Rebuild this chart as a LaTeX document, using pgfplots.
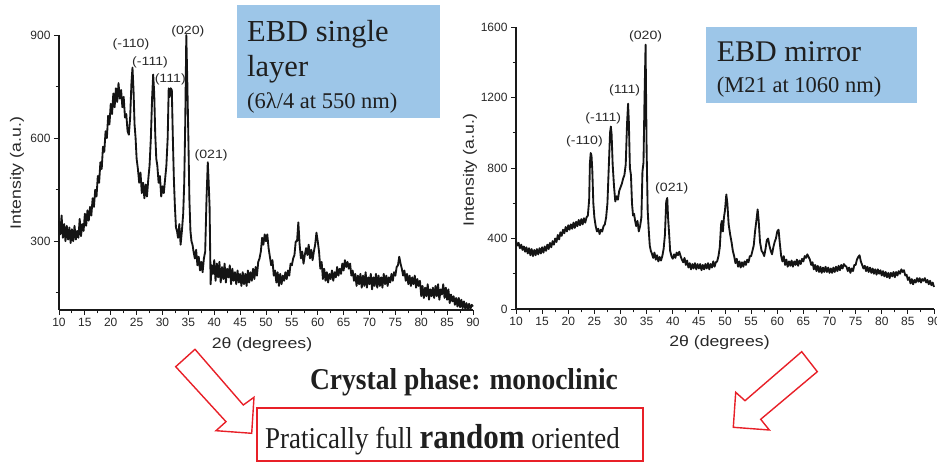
\documentclass[border=0pt]{standalone}
\usepackage{pgfplots}
\pgfplotsset{compat=1.18}
\usepackage{pgfplotstable}
\usepackage{fontspec}
\setmainfont{Liberation Serif}
\setsansfont{Liberation Sans}
\newfontfamily\plotfont{Liberation Sans}

\definecolor{boxblue}{RGB}{157,198,232}
\definecolor{arrowred}{RGB}{232,32,40}
\definecolor{inkgray}{RGB}{40,40,40}

% XRD pattern, EBD single layer (2theta in degrees, intensity in a.u.)
\pgfplotstableread[row sep=\\]{
tt I\\
10.00 360\\ 10.25 320\\ 10.50 375\\ 10.75 310\\ 11.00 350\\ 11.25 300\\ 11.50 345\\ 11.75 305\\
12.00 340\\ 12.25 295\\ 12.50 335\\ 12.75 300\\ 13.00 345\\ 13.25 305\\ 13.50 330\\ 13.75 310\\
14.00 365\\ 14.25 315\\ 14.50 350\\ 14.75 330\\ 15.00 380\\ 15.25 345\\ 15.50 390\\ 15.75 360\\
16.00 400\\ 16.25 375\\ 16.50 425\\ 16.75 400\\ 17.00 450\\ 17.25 430\\ 17.50 490\\ 17.75 470\\
18.00 530\\ 18.25 510\\ 18.50 575\\ 18.75 560\\ 19.00 620\\ 19.25 600\\ 19.50 665\\ 19.75 640\\
20.00 700\\ 20.25 670\\ 20.50 730\\ 20.75 690\\ 21.00 745\\ 21.25 705\\ 21.50 760\\ 21.75 715\\
22.00 740\\ 22.25 690\\ 22.50 720\\ 22.75 660\\ 23.00 670\\ 23.25 620\\ 23.50 610\\ 23.75 660\\
24.00 760\\ 24.20 805\\ 24.40 740\\ 24.60 640\\ 24.80 600\\ 25.00 540\\ 25.25 510\\ 25.50 470\\
25.75 500\\ 26.00 440\\ 26.25 470\\ 26.50 425\\ 26.75 465\\ 27.00 430\\ 27.25 480\\ 27.50 520\\
27.75 600\\ 28.00 720\\ 28.20 785\\ 28.40 730\\ 28.60 610\\ 28.80 540\\ 29.00 520\\ 29.25 470\\
29.50 490\\ 29.75 430\\ 30.00 460\\ 30.25 440\\ 30.50 480\\ 30.75 520\\ 31.00 600\\ 31.20 745\\
31.40 720\\ 31.60 745\\ 31.80 740\\ 32.00 600\\ 32.20 480\\ 32.40 400\\ 32.60 340\\ 32.80 330\\
33.00 310\\ 33.25 350\\ 33.50 290\\ 33.75 330\\ 34.00 380\\ 34.20 470\\ 34.40 650\\ 34.60 900\\
34.80 760\\ 35.00 600\\ 35.20 420\\ 35.40 330\\ 35.60 300\\ 35.80 290\\ 36.00 270\\ 36.25 250\\
36.50 275\\ 36.75 230\\ 37.00 255\\ 37.25 215\\ 37.50 240\\ 37.75 210\\ 38.00 250\\ 38.25 270\\
38.50 420\\ 38.75 530\\ 38.90 480\\ 39.10 400\\ 39.30 175\\ 39.50 230\\ 39.75 205\\ 40.00 245\\
40.25 185\\ 40.50 235\\ 40.75 195\\ 41.00 240\\ 41.25 180\\ 41.50 225\\ 41.75 190\\ 42.00 235\\
42.25 180\\ 42.50 220\\ 42.75 195\\ 43.00 230\\ 43.25 175\\ 43.50 220\\ 43.75 185\\ 44.00 210\\
44.25 175\\ 44.50 215\\ 44.75 180\\ 45.00 205\\ 45.25 170\\ 45.50 210\\ 45.75 175\\ 46.00 205\\
46.25 170\\ 46.50 215\\ 46.75 180\\ 47.00 210\\ 47.25 185\\ 47.50 220\\ 47.75 190\\ 48.00 225\\
48.25 200\\ 48.50 240\\ 48.75 250\\ 49.00 270\\ 49.25 310\\ 49.50 290\\ 49.75 320\\ 50.00 300\\
50.25 320\\ 50.50 280\\ 50.75 255\\ 51.00 230\\ 51.25 245\\ 51.50 200\\ 51.75 215\\ 52.00 180\\
52.25 210\\ 52.50 170\\ 52.75 205\\ 53.00 175\\ 53.25 200\\ 53.50 185\\ 53.75 210\\ 54.00 190\\
54.25 215\\ 54.50 200\\ 54.75 235\\ 55.00 230\\ 55.25 250\\ 55.50 260\\ 55.75 300\\ 56.00 300\\
56.25 355\\ 56.50 290\\ 56.75 250\\ 57.00 270\\ 57.25 235\\ 57.50 260\\ 57.75 280\\ 58.00 260\\
58.25 290\\ 58.50 250\\ 58.75 275\\ 59.00 245\\ 59.25 270\\ 59.50 290\\ 59.75 325\\ 60.00 300\\
60.25 270\\ 60.50 220\\ 60.75 240\\ 61.00 190\\ 61.25 220\\ 61.50 185\\ 61.75 210\\ 62.00 180\\
62.25 205\\ 62.50 190\\ 62.75 215\\ 63.00 185\\ 63.25 210\\ 63.50 195\\ 63.75 225\\ 64.00 200\\
64.25 220\\ 64.50 205\\ 64.75 235\\ 65.00 215\\ 65.25 245\\ 65.50 225\\ 65.75 240\\ 66.00 220\\
66.25 235\\ 66.50 200\\ 66.75 215\\ 67.00 185\\ 67.25 205\\ 67.50 170\\ 67.75 200\\ 68.00 175\\
68.25 205\\ 68.50 165\\ 68.75 200\\ 69.00 170\\ 69.25 210\\ 69.50 165\\ 69.75 195\\ 70.00 175\\
70.25 205\\ 70.50 160\\ 70.75 195\\ 71.00 170\\ 71.25 205\\ 71.50 165\\ 71.75 200\\ 72.00 170\\
72.25 195\\ 72.50 165\\ 72.75 205\\ 73.00 175\\ 73.25 200\\ 73.50 170\\ 73.75 195\\ 74.00 180\\
74.25 205\\ 74.50 185\\ 74.75 210\\ 75.00 200\\ 75.25 225\\ 75.50 230\\ 75.75 255\\ 76.00 235\\
76.25 220\\ 76.50 200\\ 76.75 215\\ 77.00 185\\ 77.25 205\\ 77.50 175\\ 77.75 200\\ 78.00 170\\
78.25 195\\ 78.50 175\\ 78.75 200\\ 79.00 165\\ 79.25 190\\ 79.50 170\\ 79.75 185\\ 80.00 140\\
80.25 170\\ 80.50 135\\ 80.75 165\\ 81.00 140\\ 81.25 175\\ 81.50 130\\ 81.75 160\\ 82.00 140\\
82.25 165\\ 82.50 135\\ 82.75 170\\ 83.00 140\\ 83.25 175\\ 83.50 130\\ 83.75 160\\ 84.00 145\\
84.25 175\\ 84.50 135\\ 84.75 165\\ 85.00 130\\ 85.25 160\\ 85.50 120\\ 85.75 145\\ 86.00 125\\
86.25 140\\ 86.50 115\\ 86.75 135\\ 87.00 110\\ 87.25 135\\ 87.50 108\\ 87.75 130\\ 88.00 105\\
88.25 125\\ 88.50 104\\ 88.75 120\\ 89.00 102\\ 89.25 118\\ 89.50 103\\ 89.75 115\\ 90.00 110\\
}\singlelayer

% XRD pattern, EBD mirror
\pgfplotstableread[row sep=\\]{
tt I\\
10.00 385\\ 10.25 360\\ 10.50 375\\ 10.75 345\\ 11.00 365\\ 11.25 335\\ 11.50 355\\ 11.75 325\\
12.00 350\\ 12.25 315\\ 12.50 345\\ 12.75 305\\ 13.00 340\\ 13.25 300\\ 13.50 335\\ 13.75 305\\
14.00 340\\ 14.25 310\\ 14.50 345\\ 14.75 315\\ 15.00 350\\ 15.25 320\\ 15.50 355\\ 15.75 330\\
16.00 365\\ 16.25 340\\ 16.50 375\\ 16.75 350\\ 17.00 385\\ 17.25 365\\ 17.50 400\\ 17.75 380\\
18.00 420\\ 18.25 395\\ 18.50 435\\ 18.75 415\\ 19.00 450\\ 19.25 430\\ 19.50 465\\ 19.75 440\\
20.00 475\\ 20.25 450\\ 20.50 480\\ 20.75 455\\ 21.00 490\\ 21.25 460\\ 21.50 495\\ 21.75 470\\
22.00 505\\ 22.25 475\\ 22.50 510\\ 22.75 480\\ 23.00 515\\ 23.25 490\\ 23.50 520\\ 23.75 530\\
24.00 620\\ 24.15 830\\ 24.30 885\\ 24.45 870\\ 24.60 790\\ 24.80 600\\ 25.00 520\\ 25.25 470\\
25.50 440\\ 25.75 455\\ 26.00 425\\ 26.25 450\\ 26.50 440\\ 26.75 470\\ 27.00 480\\ 27.25 520\\
27.50 600\\ 27.75 800\\ 28.00 1000\\ 28.15 1035\\ 28.30 990\\ 28.50 820\\ 28.75 700\\ 29.00 610\\
29.25 640\\ 29.50 620\\ 29.75 670\\ 30.00 690\\ 30.25 710\\ 30.50 740\\ 30.75 760\\ 31.00 820\\
31.25 1050\\ 31.45 1165\\ 31.60 1060\\ 31.80 800\\ 32.00 760\\ 32.20 600\\ 32.40 530\\ 32.60 540\\
32.80 500\\ 33.00 470\\ 33.25 500\\ 33.50 440\\ 33.75 470\\ 34.00 520\\ 34.20 780\\ 34.40 830\\
34.60 1200\\ 34.80 1500\\ 35.00 900\\ 35.20 560\\ 35.40 450\\ 35.60 360\\ 35.80 330\\ 36.00 315\\
36.25 290\\ 36.50 320\\ 36.75 280\\ 37.00 305\\ 37.25 270\\ 37.50 295\\ 37.75 275\\ 38.00 300\\
38.25 340\\ 38.50 420\\ 38.75 610\\ 38.95 630\\ 39.10 520\\ 39.30 430\\ 39.50 330\\ 39.75 300\\
40.00 285\\ 40.25 310\\ 40.50 290\\ 40.75 320\\ 41.00 305\\ 41.25 325\\ 41.50 300\\ 41.75 280\\
42.00 265\\ 42.25 290\\ 42.50 250\\ 42.75 275\\ 43.00 235\\ 43.25 260\\ 43.50 225\\ 43.75 255\\
44.00 230\\ 44.25 260\\ 44.50 225\\ 44.75 255\\ 45.00 230\\ 45.25 255\\ 45.50 220\\ 45.75 250\\
46.00 225\\ 46.25 255\\ 46.50 230\\ 46.75 260\\ 47.00 225\\ 47.25 255\\ 47.50 235\\ 47.75 270\\
48.00 240\\ 48.25 265\\ 48.50 270\\ 48.75 300\\ 49.00 350\\ 49.25 480\\ 49.40 500\\ 49.60 440\\
49.80 520\\ 50.00 560\\ 50.25 650\\ 50.45 600\\ 50.70 480\\ 51.00 420\\ 51.25 380\\ 51.50 330\\
51.75 300\\ 52.00 260\\ 52.25 285\\ 52.50 240\\ 52.75 270\\ 53.00 235\\ 53.25 265\\ 53.50 240\\
53.75 270\\ 54.00 250\\ 54.25 280\\ 54.50 265\\ 54.75 300\\ 55.00 300\\ 55.25 330\\ 55.50 360\\
55.75 440\\ 56.00 500\\ 56.25 565\\ 56.45 500\\ 56.70 380\\ 57.00 330\\ 57.25 320\\ 57.50 300\\
57.75 340\\ 58.00 390\\ 58.25 400\\ 58.50 360\\ 58.75 330\\ 59.00 310\\ 59.25 350\\ 59.50 380\\
59.75 400\\ 60.00 440\\ 60.25 450\\ 60.50 370\\ 60.75 300\\ 61.00 270\\ 61.25 300\\ 61.50 250\\
61.75 280\\ 62.00 240\\ 62.25 270\\ 62.50 245\\ 62.75 275\\ 63.00 240\\ 63.25 270\\ 63.50 250\\
63.75 280\\ 64.00 245\\ 64.25 275\\ 64.50 255\\ 64.75 285\\ 65.00 270\\ 65.25 300\\ 65.50 290\\
65.75 310\\ 66.00 295\\ 66.25 280\\ 66.50 250\\ 66.75 265\\ 67.00 225\\ 67.25 250\\ 67.50 215\\
67.75 245\\ 68.00 210\\ 68.25 240\\ 68.50 205\\ 68.75 235\\ 69.00 210\\ 69.25 240\\ 69.50 210\\
69.75 235\\ 70.00 205\\ 70.25 230\\ 70.50 205\\ 70.75 235\\ 71.00 210\\ 71.25 240\\ 71.50 215\\
71.75 245\\ 72.00 220\\ 72.25 250\\ 72.50 230\\ 72.75 255\\ 73.00 245\\ 73.25 240\\ 73.50 215\\
73.75 235\\ 74.00 205\\ 74.25 230\\ 74.50 215\\ 74.75 250\\ 75.00 250\\ 75.25 280\\ 75.50 295\\
75.75 305\\ 76.00 270\\ 76.25 250\\ 76.50 230\\ 76.75 245\\ 77.00 215\\ 77.25 240\\ 77.50 210\\
77.75 235\\ 78.00 205\\ 78.25 230\\ 78.50 200\\ 78.75 225\\ 79.00 195\\ 79.25 225\\ 79.50 200\\
79.75 220\\ 80.00 190\\ 80.25 215\\ 80.50 185\\ 80.75 210\\ 81.00 180\\ 81.25 205\\ 81.50 175\\
81.75 205\\ 82.00 185\\ 82.25 210\\ 82.50 180\\ 82.75 210\\ 83.00 190\\ 83.25 215\\ 83.50 200\\
83.75 225\\ 84.00 210\\ 84.25 220\\ 84.50 190\\ 84.75 195\\ 85.00 165\\ 85.25 180\\ 85.50 145\\
85.75 170\\ 86.00 140\\ 86.25 165\\ 86.50 150\\ 86.75 175\\ 87.00 155\\ 87.25 175\\ 87.50 150\\
87.75 170\\ 88.00 160\\ 88.25 175\\ 88.50 150\\ 88.75 165\\ 89.00 140\\ 89.25 160\\ 89.50 135\\
89.75 150\\ 90.00 125\\
}\mirror

\pgfplotsset{
  xrdaxis/.style={
    scale only axis,
    xmin=10, xmax=90,
    axis x line*=bottom, axis y line*=left,
    axis line style={line width=1.2pt, -, black!90},
    every tick/.style={black!90, line width=0.9pt},
    tick align=outside,
    major tick length=5pt, minor tick length=3.5pt,
    xtick={10,15,...,90}, minor xtick={12.5,17.5,...,87.5},
    tick label style={font=\plotfont\fontsize{12}{12}\selectfont, text=inkgray},
    /pgf/number format/assume math mode=true,
    /pgf/number format/1000 sep={},
    clip=false,
  },
  xrdline/.style={black!92, line width=1.85pt, line join=round, mark=none},
}

\tikzset{
  peak/.style={font=\plotfont\fontsize{12}{12}\selectfont, text=inkgray, inner sep=0pt},
  axlabel/.style={font=\plotfont\fontsize{15}{15}\selectfont, text=inkgray, inner sep=0pt},
  boxtext/.style={inner sep=0pt, anchor=base west, text=black!88},
}
% sans labels in the plots are set a little wide
\newcommand{\wide}[1]{\scalebox{1.18}[1]{#1}}

\begin{document}
\begin{tikzpicture}[x=1pt, y=1pt]
\useasboundingbox (0,0) rectangle (937,462);

% single layer pattern
\begin{axis}[xrdaxis, at={(59pt,152pt)}, anchor=south west,
  width=414pt, height=275pt, ymin=100, ymax=900,
  ytick={300,600,900}, minor ytick={150,450,750}]
  \addplot[xrdline] table[x=tt, y=I] {\singlelayer};
  \node[peak] at (axis cs:23.9,874) {\wide{(-110)}};
  \node[peak] at (axis cs:27.6,820) {\wide{(-111)}};
  \node[peak] at (axis cs:31.5,772) {\wide{(111)}};
  \node[peak] at (axis cs:34.9,911) {\wide{(020)}};
  \node[peak] at (axis cs:39.4,549) {\wide{(021)}};
\end{axis}

% mirror pattern
\begin{axis}[xrdaxis, at={(516pt,153pt)}, anchor=south west,
  width=418pt, height=282pt, ymin=0, ymax=1600,
  ytick={0,400,...,1600}, minor ytick={200,600,1000,1400}]
  \addplot[xrdline] table[x=tt, y=I] {\mirror};
  \node[peak] at (axis cs:23.1,949) {\wide{(-110)}};
  \node[peak] at (axis cs:26.7,1083) {\wide{(-111)}};
  \node[peak] at (axis cs:30.8,1238) {\wide{(111)}};
  \node[peak] at (axis cs:34.8,1545) {\wide{(020)}};
  \node[peak] at (axis cs:39.8,685) {\wide{(021)}};
\end{axis}

% axis titles
\node[axlabel, rotate=90] at (17,289) {\wide{Intensity (a.u.)}};
\node[axlabel, rotate=90] at (470,292) {\wide{Intensity (a.u.)}};
\node[axlabel] at (262,117) {\wide{2θ (degrees)}};
\node[axlabel] at (719.5,119) {\wide{2θ (degrees)}};

% sample boxes
\fill[boxblue] (237,344) rectangle (440,457);
\node[boxtext, font=\fontsize{30.5}{31}\selectfont] at (247,420.3) {EBD single};
\node[boxtext, font=\fontsize{30.5}{31}\selectfont] at (247,385.3) {layer};
\node[boxtext, font=\fontsize{22.5}{23}\selectfont] at (247,353.7) {(6λ/4 at 550 nm)};

\fill[boxblue] (706,359.3) rectangle (917.3,434.7);
\node[boxtext, font=\fontsize{30}{31}\selectfont] at (716.7,400.3) {EBD mirror};
\node[boxtext, font=\fontsize{22.5}{23}\selectfont] at (716.7,369.3) {(M21 at 1060 nm)};

% conclusion
\node[inner sep=0pt, anchor=base, text=black!88, font=\bfseries\fontsize{27.5}{28}\selectfont]
  at (464,72.7) {\scalebox{1}[1.1]{Crystal phase: monoclinic}};
\draw[arrowred, line width=1.4pt] (257,0.8) rectangle (643,54);
\node[boxtext, font=\fontsize{27}{28}\selectfont] at (265,13.7)
  {\scalebox{1}[1.12]{Pratically full {\bfseries\fontsize{31}{32}\selectfont random} oriented}};

% block arrows
\draw[arrowred, line width=1.4pt, line join=miter, fill=white]
  (175.7,95.3) -- (195,112.7) -- (243.3,57) -- (254,64.7) -- (251.7,28.7)
  -- (216,31.3) -- (226,40.3) -- cycle;
\draw[arrowred, line width=1.4pt, line join=miter, fill=white]
  (817.3,90.3) -- (801.7,110.3) -- (745,61.3) -- (735.7,69.7) -- (733.3,34.7)
  -- (769.3,32) -- (760.7,42.7) -- cycle;
\end{tikzpicture}
\end{document}
